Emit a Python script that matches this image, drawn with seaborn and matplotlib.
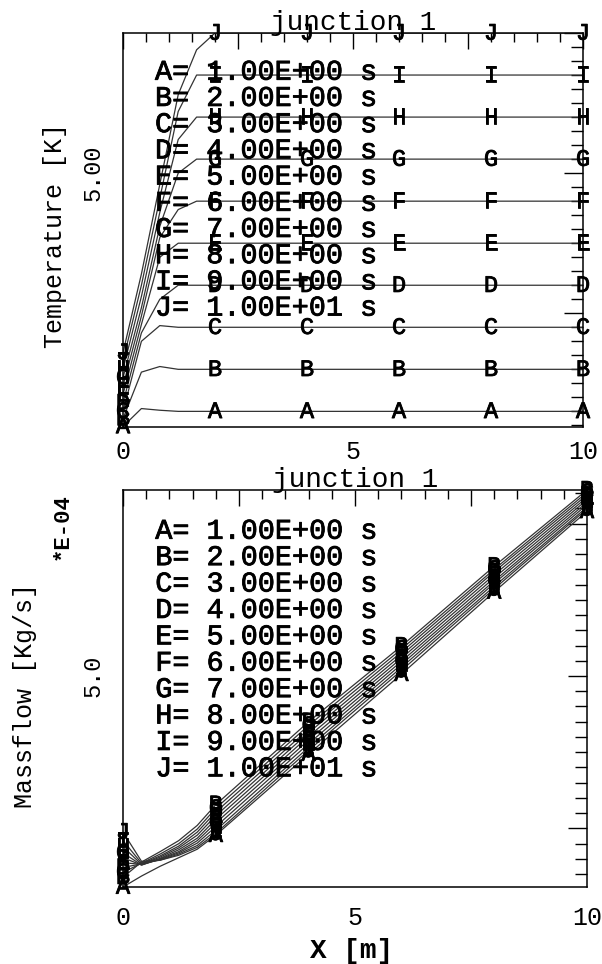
import numpy as np
import pandas as pd
import matplotlib
matplotlib.use("Agg")
import matplotlib.pyplot as plt
import matplotlib.transforms as mtransforms
import matplotlib.patheffects as pe
from matplotlib.ticker import MultipleLocator, FuncFormatter
import seaborn as sns

# ---- data -------------------------------------------------------------
curve_ids = list("ABCDEFGHIJ")
times_s = [1.0, 2.0, 3.0, 4.0, 5.0, 6.0, 7.0, 8.0, 9.0, 10.0]

# positions along the pipe [m]
x_nodes = [0.0, 0.4, 0.8, 1.2, 1.6, 2.0, 4.0, 6.0, 8.0, 10.0]
# positions where the curve letters are printed
x_marks = [0.0, 2.0, 4.0, 6.0, 8.0, 10.0]

# junction 1 temperature [K]
temp_A = [0.48, 0.80, 0.77, 0.75, 0.75, 0.75, 0.75, 0.75, 0.75, 0.75]
temp_B = [0.62, 1.45, 1.55, 1.50, 1.50, 1.50, 1.50, 1.50, 1.50, 1.50]
temp_C = [0.75, 2.00, 2.28, 2.25, 2.25, 2.25, 2.25, 2.25, 2.25, 2.25]
temp_D = [0.90, 2.15, 2.75, 3.00, 3.00, 3.00, 3.00, 3.00, 3.00, 3.00]
temp_E = [1.05, 2.30, 3.50, 3.75, 3.75, 3.75, 3.75, 3.75, 3.75, 3.75]
temp_F = [1.20, 2.45, 3.85, 4.35, 4.50, 4.50, 4.50, 4.50, 4.50, 4.50]
temp_G = [1.35, 2.60, 4.05, 5.00, 5.25, 5.25, 5.25, 5.25, 5.25, 5.25]
temp_H = [1.50, 2.80, 4.30, 5.60, 6.00, 6.00, 6.00, 6.00, 6.00, 6.00]
temp_I = [1.65, 3.00, 4.55, 6.10, 6.75, 6.75, 6.75, 6.75, 6.75, 6.75]
temp_J = [1.80, 3.20, 4.80, 6.40, 7.20, 7.50, 7.50, 7.50, 7.50, 7.50]

# junction 1 massflow [1e-4 kg/s]
mflow_A = [1.54, 1.72, 1.88, 2.02, 2.16, 2.39, 3.72, 5.03, 6.38, 7.70]
mflow_B = [1.70, 1.95, 2.12, 2.30, 2.55, 2.89, 4.25, 5.49, 6.80, 8.05]
mflow_C = [1.78, 1.93, 2.08, 2.25, 2.49, 2.83, 4.19, 5.44, 6.75, 8.01]
mflow_D = [1.86, 1.92, 2.05, 2.21, 2.44, 2.77, 4.13, 5.39, 6.71, 7.97]
mflow_E = [1.94, 1.91, 2.03, 2.18, 2.39, 2.71, 4.07, 5.34, 6.66, 7.93]
mflow_F = [2.02, 1.90, 2.01, 2.15, 2.34, 2.65, 4.01, 5.29, 6.61, 7.89]
mflow_G = [2.10, 1.90, 2.00, 2.12, 2.30, 2.59, 3.95, 5.24, 6.56, 7.85]
mflow_H = [2.20, 1.91, 1.99, 2.10, 2.26, 2.53, 3.89, 5.19, 6.52, 7.81]
mflow_I = [2.30, 1.93, 1.98, 2.08, 2.22, 2.47, 3.83, 5.14, 6.47, 7.77]
mflow_J = [2.44, 1.96, 1.98, 2.06, 2.19, 2.42, 3.78, 5.09, 6.43, 7.74]

temp_series = [temp_A, temp_B, temp_C, temp_D, temp_E,
               temp_F, temp_G, temp_H, temp_I, temp_J]
mflow_series = [mflow_A, mflow_B, mflow_C, mflow_D, mflow_E,
                mflow_F, mflow_G, mflow_H, mflow_I, mflow_J]


def long_frame(series):
    rows = []
    for cid, vals in zip(curve_ids, series):
        for x, v in zip(x_nodes, vals):
            rows.append({"curve": cid, "x": x, "value": v})
    return pd.DataFrame(rows)


temp_df = long_frame(temp_series)
mflow_df = long_frame(mflow_series)

# ---- style ------------------------------------------------------------
sns.set_theme(style="white")
MONO = ["Liberation Mono", "DejaVu Sans Mono"]
plt.rcParams["font.family"] = MONO
plt.rcParams["axes.linewidth"] = 1.1
plt.rcParams["axes.edgecolor"] = "black"

LINE_COLOR = "#333333"
TXT = "#000000"
MEDIUM = [pe.withStroke(linewidth=0.6, foreground=TXT)]

fig = plt.figure(figsize=(6.02, 9.64), dpi=100)
W, H = 602.0, 964.0


def axes_at(left, top, right, bottom):
    return fig.add_axes([left / W, 1 - bottom / H, (right - left) / W, (bottom - top) / H])


ax_t = axes_at(123, 33, 583, 426.5)
ax_b = axes_at(123, 490, 587, 887)


def style_axes(ax, ylim, ylab_fmt, xpad, ypad):
    ax.set_xlim(0, 10)
    ax.set_ylim(*ylim)
    ax.xaxis.set_major_locator(MultipleLocator(2.5))
    ax.xaxis.set_minor_locator(MultipleLocator(0.5))
    ax.yaxis.set_major_locator(MultipleLocator(2.5))
    ax.yaxis.set_minor_locator(MultipleLocator(0.25))
    ax.xaxis.set_major_formatter(FuncFormatter(
        lambda v, p: f"{v:.0f}" if abs(v % 5) < 1e-6 else ""))
    ax.yaxis.set_major_formatter(FuncFormatter(
        lambda v, p: ylab_fmt.format(v) if abs(v % 5) < 1e-6 else ""))
    ax.tick_params(which="both", direction="in", top=True, right=True,
                   color="black", width=1.0)
    ax.tick_params(axis="x", which="major", length=11.5, pad=xpad,
                   labelsize=18, labelcolor=TXT)
    ax.tick_params(axis="x", which="minor", length=6.5)
    ax.tick_params(axis="y", which="major", length=13.7, pad=ypad,
                   labelsize=17, labelcolor=TXT, labelrotation=90)
    ax.tick_params(axis="y", which="minor", length=8.6)
    for lab in ax.get_yticklabels():
        lab.set_va("center")
    for s in ax.spines.values():
        s.set_visible(True)
        s.set_linewidth(1.1)
        s.set_color("black")
    ax.set_facecolor("white")


def draw_curves(ax, df, series):
    sns.lineplot(data=df, x="x", y="value", hue="curve", units="curve",
                 estimator=None, palette=[LINE_COLOR] * len(curve_ids),
                 linewidth=0.9, legend=False, ax=ax)
    shift = mtransforms.offset_copy(ax.transData, fig=fig, x=0, y=-4.8, units="points")
    for cid, vals in zip(curve_ids, series):
        for x, v in zip(x_nodes, vals):
            if x in x_marks:
                ax.text(x, v, cid, transform=shift, ha="center", va="baseline",
                        fontsize=17, color=TXT, clip_on=False, zorder=5,
                        path_effects=MEDIUM)


def draw_key(ax, y0, step):
    for i, (cid, t) in enumerate(zip(curve_ids, times_s)):
        ax.text(0.0696, y0 - i * step, f"{cid}= {t:.2E} s", transform=ax.transAxes,
                ha="left", va="baseline", fontsize=20.5, color=TXT, zorder=6,
                path_effects=MEDIUM)


# ---- top panel: temperature ------------------------------------------
draw_curves(ax_t, temp_df, temp_series)
style_axes(ax_t, (0.48, 7.5), "{:.2f}", xpad=10, ypad=13)
draw_key(ax_t, 0.8813, 0.0666)
ax_t.text(0.5, 1.0, "junction 1", transform=mtransforms.offset_copy(
    ax_t.transAxes, fig=fig, x=0, y=2.5, units="points"),
    ha="center", va="baseline", fontsize=20, color=TXT)
ax_t.set_xlabel("")
ax_t.set_ylabel("Temperature [K]", fontsize=18, color=TXT)
ax_t.yaxis.label.set_va("center")
ax_t.yaxis.set_label_coords((55 - 123) / 460.0, (426.5 - 235) / 393.5)

# ---- bottom panel: massflow ------------------------------------------
draw_curves(ax_b, mflow_df, mflow_series)
style_axes(ax_b, (1.54, 8.05), "{:.1f}", xpad=14, ypad=13)
draw_key(ax_b, 0.8773, 0.0665)
ax_b.text(0.5, 1.0, "junction 1", transform=mtransforms.offset_copy(
    ax_b.transAxes, fig=fig, x=0, y=2.5, units="points"),
    ha="center", va="baseline", fontsize=20, color=TXT)
ax_b.set_xlabel("X [m]", fontsize=20, fontweight="bold", color=TXT)
ax_b.xaxis.label.set_va("center")
ax_b.xaxis.set_label_coords((352 - 123) / 464.0, (887 - 951) / 397.0)
ax_b.set_ylabel("Massflow [Kg/s]", fontsize=18, color=TXT)
ax_b.yaxis.label.set_va("center")
ax_b.yaxis.set_label_coords((25 - 123) / 464.0, (887 - 695) / 397.0)
fig.text(62 / W, 1 - 527 / H, "*E-04", rotation=90, ha="center", va="center",
         fontsize=16, fontweight="bold", color=TXT)

fig.savefig("out.png", dpi=100, facecolor="white")
